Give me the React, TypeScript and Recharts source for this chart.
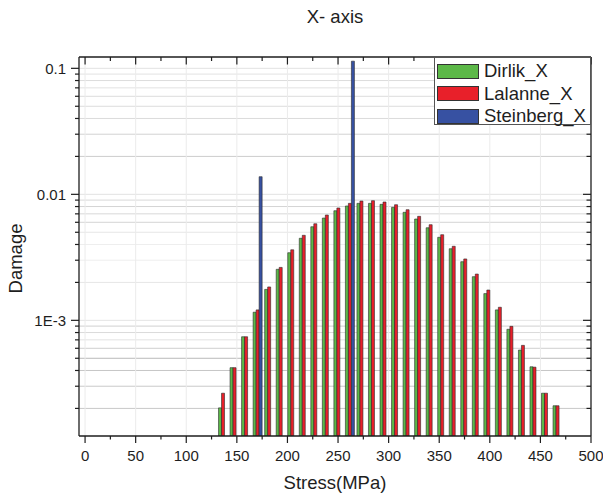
import React from "react";
import { BarChart, Bar, XAxis, YAxis, CartesianGrid, Legend, Label } from "recharts";

// stress class centres (MPa)
const stress = [
  136.6, 148.0, 159.4, 170.8, 182.2, 193.6, 205.0, 216.4, 227.8, 239.2,
  250.6, 262.0, 273.4, 284.8, 296.2, 307.6, 319.0, 330.4, 341.8, 353.2,
  364.6, 376.0, 387.4, 398.8, 410.2, 421.6, 433.0, 444.4, 455.8, 467.2,
];

// damage per class
const dirlik = [
  2.02e-4, 4.21e-4, 7.41e-4, 1.16e-3, 1.76e-3, 2.54e-3, 3.44e-3, 4.48e-3, 5.53e-3, 6.48e-3,
  7.41e-3, 8.08e-3, 8.48e-3, 8.48e-3, 8.33e-3, 7.88e-3, 7.2e-3, 6.37e-3, 5.43e-3, 4.56e-3,
  3.7e-3, 2.92e-3, 2.22e-3, 1.63e-3, 1.21e-3, 8.49e-4, 5.81e-4, 4.28e-4, 2.64e-4, 2.1e-4,
];
const lalanne = [
  2.64e-4, 4.21e-4, 7.41e-4, 1.21e-3, 1.84e-3, 2.63e-3, 3.63e-3, 4.73e-3, 5.84e-3, 6.85e-3,
  7.79e-3, 8.48e-3, 8.85e-3, 8.9e-3, 8.69e-3, 8.27e-3, 7.55e-3, 6.69e-3, 5.74e-3, 4.78e-3,
  3.87e-3, 3.07e-3, 2.33e-3, 1.74e-3, 1.27e-3, 8.96e-4, 6.33e-4, 4.25e-4, 2.64e-4, 2.1e-4,
];
const steinberg = [
  null, null, null, 0.0138, null, null, null, null, null, null,
  null, 0.114, null, null, null, null, null, null, null, null,
  null, null, null, null, null, null, null, null, null, null,
];

const stressTicks = [0, 25, 50, 75, 100, 125, 150, 175, 200, 225, 250, 275, 300, 325, 350, 375, 400, 425, 450, 475, 500];
const stressGrid = [0, 50, 100, 150, 200, 250, 300, 350, 400, 450];
const damageTicks = [
  2e-4, 3e-4, 4e-4, 5e-4, 6e-4, 7e-4, 8e-4, 9e-4,
  1e-3, 2e-3, 3e-3, 4e-3, 5e-3, 6e-3, 7e-3, 8e-3, 9e-3,
  0.01, 0.02, 0.03, 0.04, 0.05, 0.06, 0.07, 0.08, 0.09, 0.1,
];
const damageMajor = [1e-3, 0.01, 0.1];
const damageLabels = ["1E-3", "0.01", "0.1"];

// grid line shades, same order as damageTicks (the scan renders them unevenly)
const gridShades = [
  "#c9c9c9", "#c9c9c9", "#c6c6c6", "#b9b9b9", "#cfcfcf", "#e2e2e2", "#dadada", "#d0d0d0", "#e4e4e4",
  "#e6e6e6", "#eeeeee", "#eeeeee", "#e6e6e6", "#d4d4d4", "#d8d8d8", "#d4d4d4", "#d8d8d8", "#e2e2e2",
  "#cccccc", "#d2d2d2", "#dcdcdc", "#dcdcdc", "#dcdcdc", "#e2e2e2", "#dcdcdc", "#e2e2e2", "#e2e2e2",
];

const series = [
  { key: "dirlik", name: "Dirlik_X", color: "#5cb848" },
  { key: "lalanne", name: "Lalanne_X", color: "#e8202a" },
  { key: "steinberg", name: "Steinberg_X", color: "#3751a2" },
];

const data = stress.map((s, i) => ({
  stress: s,
  dirlik: dirlik[i],
  lalanne: lalanne[i],
  steinberg: steinberg[i],
}));

const FONT = '"Liberation Sans", Arial, sans-serif';
const INK = "#1e1e1e";

const BottomTick = ({ x, y, payload }: any) => {
  const major = payload.value % 50 === 0;
  return (
    <g>
      <line x1={x} x2={x} y1={y} y2={y + (major ? 7 : 3.5)} stroke={INK} strokeWidth={1.2} />
      {major && (
        <text x={x} y={y + 25} textAnchor="middle" fontSize={15} fontFamily={FONT} fill={INK}>
          {payload.value}
        </text>
      )}
    </g>
  );
};

const TopTick = ({ x, y, payload }: any) => {
  const major = payload.value % 50 === 0;
  return <line x1={x} x2={x} y1={y} y2={y + (major ? 7.5 : 4)} stroke={INK} strokeWidth={1.2} />;
};

const LeftTick = ({ x, y, payload }: any) => {
  const idx = damageMajor.indexOf(payload.value);
  const major = idx >= 0;
  return (
    <g>
      <line x1={x - (major ? 8 : 4)} x2={x} y1={y} y2={y} stroke={INK} strokeWidth={1.2} />
      {major && (
        <text x={x - 13} y={y} dy="0.36em" textAnchor="end" fontSize={15} fontFamily={FONT} fill={INK}>
          {damageLabels[idx]}
        </text>
      )}
    </g>
  );
};

const RightTick = ({ x, y, payload }: any) => {
  const major = damageMajor.indexOf(payload.value) >= 0;
  return <line x1={x - (major ? 8 : 4.5)} x2={x} y1={y} y2={y} stroke={INK} strokeWidth={1.2} />;
};

const GridRow = (p: any) => {
  const shade = gridShades[p.index] || "#dedede";
  return <line x1={p.x1} x2={p.x2} y1={p.y1} y2={p.y2} stroke={shade} strokeWidth={1} />;
};

const LegendBox = () => (
  <div
    style={{
      width: 157,
      height: 68,
      boxSizing: "border-box",
      border: "1px solid #555",
      background: "#fff",
      padding: "2px 0 0 2px",
      fontFamily: FONT,
      fontSize: 18.5,
      color: INK,
    }}
  >
    {series.map((s) => (
      <div key={s.key} style={{ display: "flex", alignItems: "center", height: 22.5 }}>
        <div
          style={{
            width: 42,
            height: 15,
            boxSizing: "border-box",
            background: s.color,
            border: "1px solid #333",
            marginRight: 5,
          }}
        />
        <span style={{ lineHeight: "18.5px" }}>{s.name}</span>
      </div>
    ))}
  </div>
);

export default function App() {
  return (
    <div style={{ position: "absolute", left: 0, top: 0, background: "#fff" }}>
      <BarChart
        width={603}
        height={498}
        data={data}
        margin={{ top: 0, right: 0, bottom: 0, left: 0 }}
        barSize={3}
        barGap={0}
      >
        <CartesianGrid
          horizontalValues={damageTicks}
          verticalValues={stressGrid}
          horizontal={GridRow}
          stroke="#ebebeb"
        />
        <XAxis
          dataKey="stress"
          type="number"
          domain={[-6, 500]}
          allowDataOverflow
          ticks={stressTicks}
          interval={0}
          height={62}
          tickSize={0}
          tickMargin={0}
          tickLine={false}
          tick={<BottomTick />}
          axisLine={{ stroke: INK, strokeWidth: 1.3 }}
          label={{ value: "Stress(MPa)", position: "insideBottom", offset: 9, fontSize: 18.5, fill: INK, fontFamily: FONT }}
        />
        <XAxis
          xAxisId="top"
          orientation="top"
          dataKey="stress"
          type="number"
          domain={[-6, 500]}
          allowDataOverflow
          ticks={stressTicks}
          interval={0}
          height={57}
          tickSize={0}
          tickMargin={0}
          tickLine={false}
          tick={<TopTick />}
          axisLine={{ stroke: INK, strokeWidth: 1.3 }}
          label={{ value: "X- axis", position: "insideTop", offset: 10, fontSize: 18.5, fill: INK, fontFamily: FONT }}
        />
        <YAxis
          scale="log"
          type="number"
          domain={[1.208e-4, 0.123]}
          allowDataOverflow
          ticks={damageTicks}
          interval={0}
          width={79}
          tickSize={0}
          tickMargin={0}
          tickLine={false}
          tick={<LeftTick />}
          axisLine={{ stroke: INK, strokeWidth: 1.3 }}
        >
          <Label
            content={(p: any) => {
              const vb = p.viewBox;
              const cx = vb.x + 15;
              const cy = vb.y + vb.height / 2 + 12;
              return (
                <text
                  x={cx}
                  y={cy}
                  transform={`rotate(-90 ${cx} ${cy})`}
                  textAnchor="middle"
                  dy="0.36em"
                  fontSize={18.5}
                  fontFamily={FONT}
                  fill={INK}
                >
                  Damage
                </text>
              );
            }}
          />
        </YAxis>
        <YAxis
          yAxisId="right"
          orientation="right"
          scale="log"
          type="number"
          domain={[1.208e-4, 0.123]}
          allowDataOverflow
          ticks={damageTicks}
          interval={0}
          width={12}
          tickSize={0}
          tickMargin={0}
          tickLine={false}
          tick={<RightTick />}
          axisLine={{ stroke: INK, strokeWidth: 1.3 }}
        />
        <Legend
          layout="vertical"
          align="center"
          verticalAlign="middle"
          content={<LegendBox />}
          wrapperStyle={{ left: 434, top: 57, width: 157, height: 68 }}
        />
        {series.map((s) => (
          <Bar
            key={s.key}
            dataKey={s.key}
            name={s.name}
            fill={s.color}
            stroke="#2a2a2a"
            strokeWidth={0.6}
            isAnimationActive={false}
          />
        ))}
      </BarChart>
    </div>
  );
}
